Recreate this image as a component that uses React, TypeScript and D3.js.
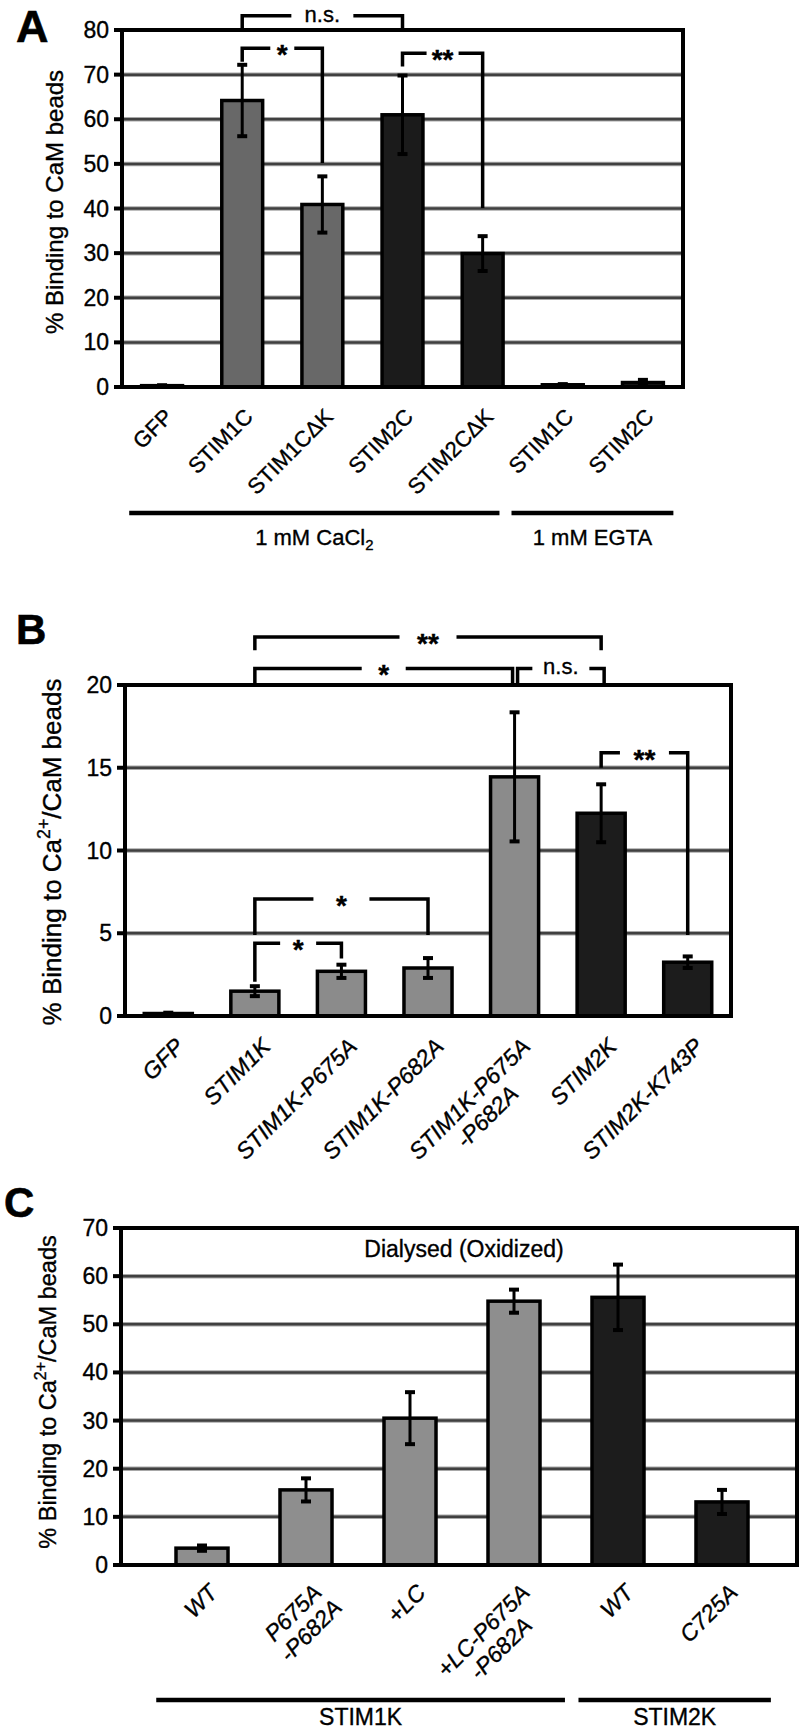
import React from "react";
import * as d3 from "d3";

const FONT = "'Liberation Sans', Arial, Helvetica, sans-serif";

// ---------------- Panel A data ----------------
const catsA = ["GFP", "STIM1C", "STIM1CΔK", "STIM2C", "STIM2CΔK", "STIM1C", "STIM2C"];
const valuesA = [0.3, 64.2, 40.9, 61.0, 29.9, 0.5, 1.0];
const errorsA = [0.1, 8.0, 6.3, 8.8, 3.9, 0.15, 0.6];
const seriesA = ["STIM1", "STIM1", "STIM1", "STIM2", "STIM2", "STIM1", "STIM2"];
const ticksA = [0, 10, 20, 30, 40, 50, 60, 70, 80];
const groupsA = [
  { label: "1 mM CaCl", sub: "2", from: -0.41, to: 4.21 },
  { label: "1 mM EGTA", sub: "", from: 4.36, to: 6.38 },
];
const bracketsA = [
  { a: 1, b: 3, y: 83.2, ya: 80, yb: 80, label: "n.s.", gap: 62 },
  { a: 1, b: 2, y: 75.9, ya: 72.9, yb: 50.2, label: "*", gap: 24 },
  { a: 3, b: 4, y: 74.8, ya: 71.8, yb: 40.1, label: "**", gap: 32 },
];

// ---------------- Panel B data ----------------
const catsB = ["GFP", "STIM1K", "STIM1K-P675A", "STIM1K-P682A", "STIM1K-P675A\n-P682A", "STIM2K", "STIM2K-K743P"];
const valuesB = [0.15, 1.5, 2.7, 2.9, 14.45, 12.25, 3.25];
const errorsB = [0.05, 0.3, 0.4, 0.6, 3.9, 1.75, 0.35];
const seriesB = ["STIM1", "STIM1", "STIM1", "STIM1", "STIM1", "STIM2", "STIM2"];
const ticksB = [0, 5, 10, 15, 20];
const bracketsB = [
  { a: 1, b: 5, y: 22.9, ya: 22.1, yb: 22.1, label: "**", gap: 57 },
  { a: 1, b: 4, y: 21.0, ya: 20, yb: 20, label: "*", gap: 44, db: -2 },
  { a: 4, b: 5, y: 21.0, ya: 20, yb: 20, label: "n.s.", gap: 57, da: 3, db: 3 },
  { a: 1, b: 3, y: 7.07, ya: 4.9, yb: 4.9, label: "*", gap: 56 },
  { a: 1, b: 2, y: 4.4, ya: 2.07, yb: 3.48, label: "*", gap: 36 },
  { a: 5, b: 6, y: 15.9, ya: 15.0, yb: 4.9, label: "**", gap: 49 },
];

// ---------------- Panel C data ----------------
const catsC = ["WT", "P675A\n-P682A", "+LC", "+LC-P675A\n-P682A", "WT", "C725A"];
const valuesC = [3.5, 15.6, 30.5, 54.8, 55.6, 13.1];
const errorsC = [0.55, 2.4, 5.4, 2.4, 6.8, 2.5];
const seriesC = ["STIM1", "STIM1", "STIM1", "STIM1", "STIM2", "STIM2"];
const ticksC = [0, 10, 20, 30, 40, 50, 60, 70];
const groupsC = [
  { label: "STIM1K", sub: "", from: -0.44, to: 3.49 },
  { label: "STIM2K", sub: "", from: 3.62, to: 5.47 },
];
const bracketsC: Bracket[] = [];

type Bracket = { a: number; b: number; y: number; ya: number; yb: number; label: string; gap: number; da?: number; db?: number };
type Group = { label: string; sub: string; from: number; to: number };

let _ctx: CanvasRenderingContext2D | null = null;
function textWidth(s: string, size: number, italic: boolean) {
  if (!_ctx) _ctx = document.createElement("canvas").getContext("2d");
  if (!_ctx) return s.length * size * 0.55;
  _ctx.font = `${italic ? "italic " : ""}${size}px ${FONT}`;
  return _ctx.measureText(s).width;
}

type Cfg = {
  letter: string; letterX: number; letterY: number; letterSize: number;
  cats: string[]; values: number[]; errors: number[]; series: string[];
  colors: Record<string, string>;
  ticks: number[]; yMax: number;
  frame: [number, number, number, number];
  bandRange: [number, number]; padInner: number; padOuter: number;
  labelDx: number; labelDy: number; labelSize: number; labelItalic: boolean; lineH: number;
  title: React.ReactNode; titleX: number; titleY: number; titleSize: number;
  brackets: Bracket[];
  groups?: Group[]; groupLineY?: number; groupTextY?: number; groupSize?: number;
  tickSize: number;
  extra?: React.ReactNode;
};

function Panel({ cfg }: { cfg: Cfg }) {
  const [fx0, fx1, fy0, fy1] = cfg.frame;
  const x = d3
    .scaleBand<number>()
    .domain(d3.range(cfg.cats.length))
    .range(cfg.bandRange)
    .paddingInner(cfg.padInner)
    .paddingOuter(cfg.padOuter);
  const y = d3.scaleLinear().domain([0, cfg.yMax]).range([fy1, fy0]);
  const bw = x.bandwidth();
  const cx = (i: number) => (x(i) as number) + bw / 2;
  const pos = (t: number) => cx(0) + t * x.step();

  return (
    <g>
      <text className="lt" x={cfg.letterX} y={cfg.letterY} fontFamily={FONT} fontWeight="bold" fontSize={cfg.letterSize}>
        {cfg.letter}
      </text>
      {/* gridlines */}
      {cfg.ticks
        .filter((t) => t > 0 && t < cfg.yMax)
        .map((t) => (
          <g key={"g" + t}>
            <line x1={fx0} x2={fx1} y1={y(t)} y2={y(t)} stroke="#a8a8a8" strokeWidth={4.5} />
            <line x1={fx0} x2={fx1} y1={y(t)} y2={y(t)} stroke="#404040" strokeWidth={2.5} />
          </g>
        ))}
      {/* bars */}
      {cfg.values.map((v, i) => (
        <rect
          key={"b" + i}
          x={x(i)}
          y={y(v)}
          width={bw}
          height={y(0) - y(v)}
          fill={cfg.colors[cfg.series[i]]}
          stroke="#000"
          strokeWidth={3.5}
        />
      ))}
      {/* error bars */}
      {cfg.values.map((v, i) => {
        const e = cfg.errors[i];
        const c = cx(i);
        return (
          <g key={"e" + i} stroke="#000">
            <line x1={c} x2={c} y1={y(v - e)} y2={y(v + e)} strokeWidth={3} />
            <line x1={c - 5} x2={c + 5} y1={y(v + e)} y2={y(v + e)} strokeWidth={4} />
            <line x1={c - 5} x2={c + 5} y1={y(v - e)} y2={y(v - e)} strokeWidth={4} />
          </g>
        );
      })}
      {/* frame */}
      <rect x={fx0} y={fy0} width={fx1 - fx0} height={fy1 - fy0} fill="none" stroke="#000" strokeWidth={4} />
      {/* ticks */}
      {cfg.ticks.map((t) => (
        <g key={"t" + t}>
          <line x1={fx0 - 8} x2={fx0} y1={y(t)} y2={y(t)} stroke="#000" strokeWidth={4} />
          <text
            x={fx0 - 13}
            y={y(t)}
            textAnchor="end"
            dominantBaseline="central"
            fontFamily={FONT}
            fontSize={cfg.tickSize}
          >
            {t}
          </text>
        </g>
      ))}
      {/* y title */}
      <text
        transform={`translate(${cfg.titleX},${cfg.titleY}) rotate(-90)`}
        textAnchor="middle"
        dominantBaseline="central"
        fontFamily={FONT}
        fontSize={cfg.titleSize}
      >
        {cfg.title}
      </text>
      {/* category labels */}
      {cfg.cats.map((c, i) => {
        const lines = c.split("\n");
        const w0 = textWidth(lines[0], cfg.labelSize, cfg.labelItalic);
        return (
          <g key={"l" + i} transform={`translate(${cx(i) + cfg.labelDx},${fy1 + cfg.labelDy}) rotate(-45)`}>
            {lines.map((ln, j) => {
              const wj = textWidth(ln, cfg.labelSize, cfg.labelItalic);
              return (
                <text
                  key={j}
                  x={-(w0 - wj) / 2}
                  y={j * cfg.lineH}
                  textAnchor="end"
                  fontFamily={FONT}
                  fontSize={cfg.labelSize}
                  fontStyle={cfg.labelItalic ? "italic" : "normal"}
                >
                  {ln}
                </text>
              );
            })}
          </g>
        );
      })}
      {/* brackets */}
      {cfg.brackets.map((b, i) => {
        const xa = cx(b.a) + (b.da || 0);
        const xb = cx(b.b) + (b.db || 0);
        const yl = y(b.y);
        const mid = (xa + xb) / 2;
        const g = b.gap / 2;
        const isStar = b.label.indexOf("*") >= 0;
        const fs = isStar ? 28 : 22;
        return (
          <g key={"br" + i}>
            <path
              d={`M${xa},${y(b.ya)}V${yl}H${mid - g}M${mid + g},${yl}H${xb}V${y(b.yb)}`}
              fill="none"
              stroke="#000"
              strokeWidth={3.5}
            />
            <text
              x={mid}
              y={yl + (isStar ? fs * 0.56 : 6)}
              textAnchor="middle"
              fontFamily={FONT}
              fontWeight={isStar ? "bold" : "normal"}
              fontSize={fs}
            >
              {b.label}
            </text>
          </g>
        );
      })}
      {/* groups */}
      {(cfg.groups || []).map((gr, i) => {
        const a = pos(gr.from);
        const b = pos(gr.to);
        return (
          <g key={"gr" + i}>
            <line x1={a} x2={b} y1={cfg.groupLineY} y2={cfg.groupLineY} stroke="#000" strokeWidth={4.5} />
            <text
              x={(a + b) / 2}
              y={cfg.groupTextY}
              textAnchor="middle"
              fontFamily={FONT}
              fontSize={cfg.groupSize}
            >
              {gr.label}
              {gr.sub ? (
                <tspan dy={5} fontSize={(cfg.groupSize || 22) * 0.68}>
                  {gr.sub}
                </tspan>
              ) : null}
            </text>
          </g>
        );
      })}
      {cfg.extra}
    </g>
  );
}

const titleCa = (
  <>
    <tspan>% Binding to Ca</tspan>
    <tspan dy={-8} fontSize="0.68em">2+</tspan>
    <tspan dy={8}>/CaM beads</tspan>
  </>
);

export default function App() {
  const cfgA: Cfg = {
    letter: "A", letterX: 16, letterY: 42, letterSize: 45,
    cats: catsA, values: valuesA, errors: errorsA, series: seriesA,
    colors: { STIM1: "#686868", STIM2: "#1b1b1b" },
    ticks: ticksA, yMax: 80,
    frame: [122, 683, 30, 387],
    bandRange: [122, 683], padInner: 0.49, padOuter: 0.245,
    labelDx: 12, labelDy: 31, labelSize: 22, labelItalic: false, lineH: 24,
    title: "% Binding to CaM beads", titleX: 54, titleY: 202, titleSize: 24,
    brackets: bracketsA,
    groups: groupsA, groupLineY: 513, groupTextY: 545, groupSize: 22,
    tickSize: 23,
  };
  const cfgB: Cfg = {
    letter: "B", letterX: 16, letterY: 644, letterSize: 42,
    cats: catsB, values: valuesB, errors: errorsB, series: seriesB,
    colors: { STIM1: "#8b8b8b", STIM2: "#1c1c1c" },
    ticks: ticksB, yMax: 20,
    frame: [125, 731, 685, 1016],
    bandRange: [125, 731], padInner: 0.445, padOuter: 0.2225,
    labelDx: 17, labelDy: 32, labelSize: 23, labelItalic: true, lineH: 25,
    title: titleCa, titleX: 52, titleY: 852, titleSize: 26,
    brackets: bracketsB,
    tickSize: 23,
  };
  const cfgC: Cfg = {
    letter: "C", letterX: 4, letterY: 1217, letterSize: 42,
    cats: catsC, values: valuesC, errors: errorsC, series: seriesC,
    colors: { STIM1: "#8e8e8e", STIM2: "#1c1c1c" },
    ticks: ticksC, yMax: 70,
    frame: [121, 797, 1228, 1565],
    bandRange: [124, 800], padInner: 0.5, padOuter: 0.5,
    labelDx: 17, labelDy: 29, labelSize: 23, labelItalic: true, lineH: 25,
    title: titleCa, titleX: 48, titleY: 1392, titleSize: 23.5,
    brackets: bracketsC,
    groups: groupsC, groupLineY: 1700, groupTextY: 1725, groupSize: 23,
    tickSize: 23,
    extra: (
      <text x={464} y={1257} textAnchor="middle" fontFamily={FONT} fontSize={23}>
        Dialysed (Oxidized)
      </text>
    ),
  };
  return (
    <svg
      width={805}
      height={1732}
      style={{ position: "absolute", left: 0, top: 0, display: "block", background: "#fff" }}
    >
      <style>{`text { stroke: #000; stroke-width: 0.35px; } text.lt { stroke-width: 0.6px; }`}</style>
      <rect width={805} height={1732} fill="#fff" />
      <Panel cfg={cfgA} />
      <Panel cfg={cfgB} />
      <Panel cfg={cfgC} />
    </svg>
  );
}
